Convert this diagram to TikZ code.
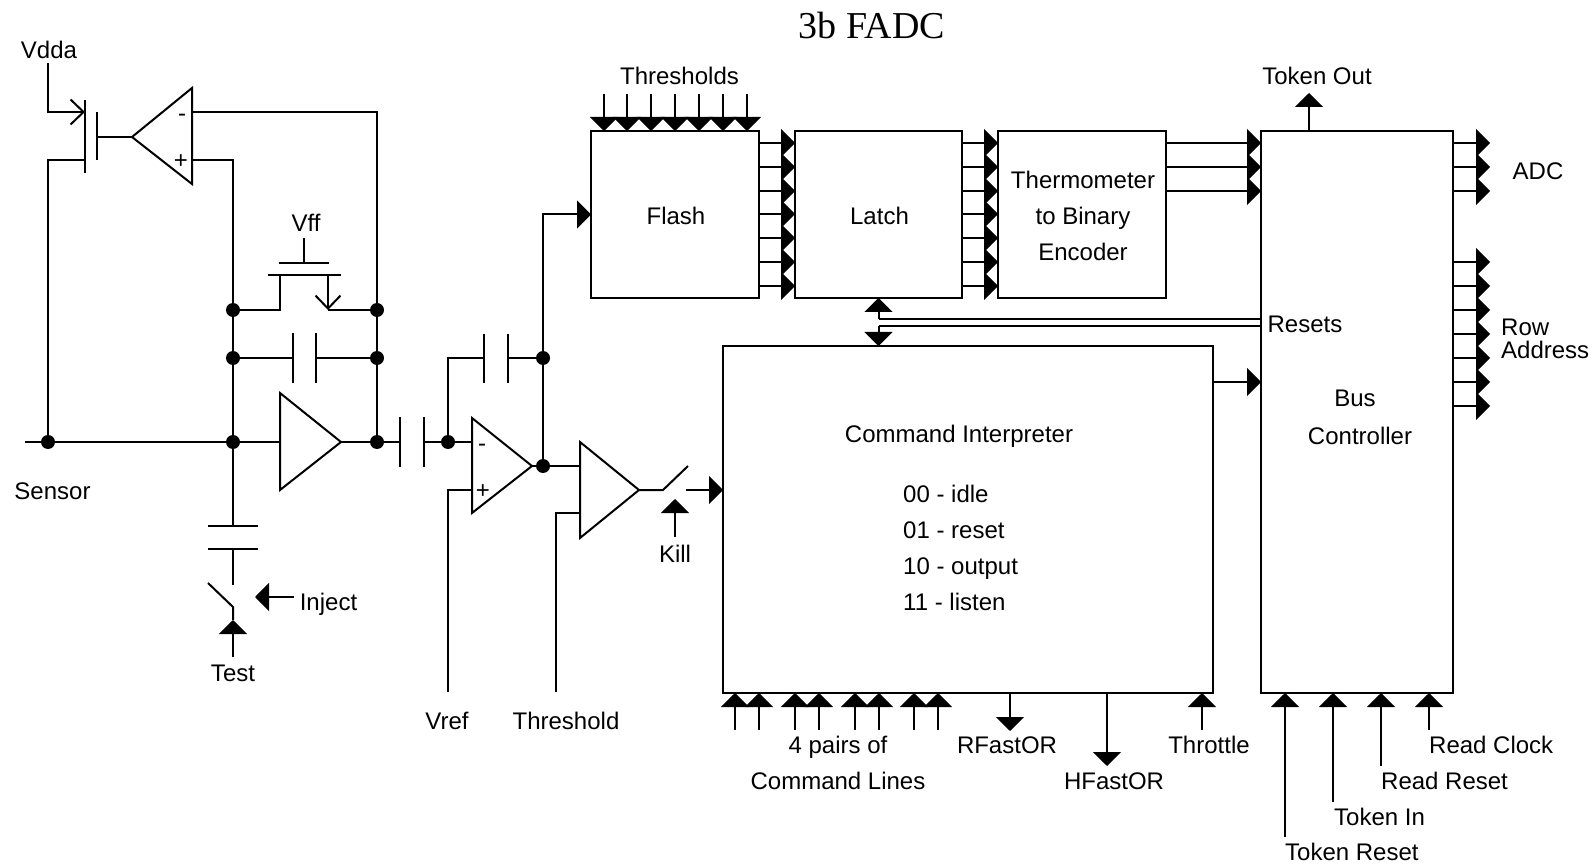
\documentclass[tikz,border=0pt]{standalone}
\usepackage{fontspec}
\setmainfont{Liberation Sans}
\newfontfamily\titlefont{Liberation Serif}
\usetikzlibrary{positioning,arrows.meta,calc}

\begin{document}
\begin{tikzpicture}[
    x=1pt, y=-1pt,
    blockbox/.style={rectangle, draw, line width=2pt, outer sep=0pt},
    lbl/.style={inner sep=0pt, align=left, font=\fontsize{24}{23}\selectfont},
    wire/.style={line width=2pt},
    arrow/.style={-{Triangle[length=14pt,width=28pt]}, line width=2pt},
    barb/.style={-{Straight Barb[length=13pt,width=25pt]}, line width=2pt},
    dot/.style={circle, fill=black, inner sep=0pt, minimum size=14pt}
]
\useasboundingbox (0,0) rectangle (1596,866);

\node[font=\titlefont\fontsize{38}{38}\selectfont, inner sep=0pt] (title) at (872,25.5) {3b FADC};

% Digital blocks
\node[blockbox, minimum width=168pt, minimum height=167pt] (flash) at (675,214.5) {};
\node[blockbox, minimum width=167pt, minimum height=167pt, right=36pt of flash] (latch) {};
\node[blockbox, minimum width=168pt, minimum height=167pt, right=36pt of latch] (thermo) {};
\node[blockbox, minimum width=192pt, minimum height=562pt, right=95pt of thermo.north east, anchor=north west] (bus) {};
\node[blockbox, minimum width=490pt, minimum height=347pt, left=48pt of bus.south west, anchor=south east] (cmd) {};

% Block texts
\node[lbl] (lflash) at ($(flash)+(1,1.5)$) {Flash};
\node[lbl] (llatch) at ($(latch)+(1,1.5)$) {Latch};
\node[lbl, align=center, font=\fontsize{24}{36}\selectfont] (lthermo) at ($(thermo)+(1,1.5)$) {Thermometer\\to Binary\\Encoder};
\node[lbl] (lbus) at (1355,398) {Bus};
\node[lbl] (lctrl) at (1360,436) {Controller};
\node[lbl] (lresets) at (1305,324) {Resets};
\node[lbl] (lcmd) at (959,436) {Command Interpreter};
\node[lbl, anchor=west] (lidle) at (903,494) {00 - idle};
\node[lbl, anchor=west] (lreset) at (903,530.5) {01 - reset};
\node[lbl, anchor=west] (loutput) at (903,569) {10 - output};
\node[lbl, anchor=west] (llisten) at (903,602) {11 - listen};

% Thresholds into Flash
\foreach \xx in {13,36,60,84,108,132,156}
    \draw[arrow] ($(flash.north west)+(\xx,-37)$) -- ($(flash.north west)+(\xx,0)$);
\node[lbl] (lthresholds) at (679.5,76) {Thresholds};

% Flash to Latch to Encoder
\foreach \yy in {12,36,60,83,107,131,155} {
    \draw[arrow] ($(flash.north east)+(0,\yy)$) -- ($(latch.north west)+(0,\yy)$);
    \draw[arrow] ($(latch.north east)+(0,\yy)$) -- ($(thermo.north west)+(0,\yy)$);
}

% Encoder to Bus Controller, ADC outputs
\foreach \yy in {12,36,60} {
    \draw[arrow] ($(thermo.north east)+(0,\yy)$) -- ($(bus.north west)+(0,\yy)$);
    \draw[arrow] ($(bus.north east)+(0,\yy)$) -- ($(bus.north east)+(37,\yy)$);
}
\node[lbl] (ladc) at (1538,171) {ADC};

% Row address outputs
\foreach \yy in {131,155,179,203,227,251,275}
    \draw[arrow] ($(bus.north east)+(0,\yy)$) -- ($(bus.north east)+(37,\yy)$);
\node[lbl, anchor=west] (lrow) at (1501,338.5) {Row\\Address};

% Token Out
\coordinate (tout) at ($(bus.north west)+(48,0)$);
\draw[arrow] (tout) -- ($(tout)+(0,-38)$);
\node[lbl] (ltout) at (1317,76) {Token Out};

% Resets
\coordinate (rtop) at ($(latch.south)+(0,21)$);
\coordinate (rbot) at ($(latch.south)+(0,28)$);
\draw[arrow] (rtop) -- (latch.south);
\draw[arrow] (rbot) -- ($(cmd.north west)!(rbot)!(cmd.north east)$);
\draw[wire] (rtop) -- ($(bus.north west)!(rtop)!(bus.south west)$);
\draw[wire] (rbot) -- ($(bus.north west)!(rbot)!(bus.south west)$);

% Command Interpreter to Bus Controller
\draw[arrow] ($(cmd.north east)+(0,36)$) -- ($(bus.north west)+(0,251)$);

% Command lines
\foreach \xx in {12,36,72,96,132,156,191,215,479}
    \draw[arrow] ($(cmd.south west)+(\xx,37)$) -- ($(cmd.south west)+(\xx,0)$);
\node[lbl] (lpairs) at (838,747) {4 pairs of};
\node[lbl] (llines) at (838,781) {Command Lines};
\node[lbl] (lthrottle) at (1209,745) {Throttle};

% Fast OR outputs
\coordinate (rfast) at ($(cmd.south west)+(287,0)$);
\coordinate (hfast) at ($(cmd.south west)+(384,0)$);
\draw[arrow] (rfast) -- ($(rfast)+(0,38)$);
\draw[arrow] (hfast) -- ($(hfast)+(0,73)$);
\node[lbl] (lrfast) at (1007,745) {RFastOR};
\node[lbl] (lhfast) at (1114,781.5) {HFastOR};

% Bus Controller inputs
\coordinate (treset) at ($(bus.south west)+(24,144)$);
\coordinate (tin) at ($(bus.south west)+(72,109)$);
\coordinate (rreset) at ($(bus.south west)+(120,73)$);
\coordinate (rclock) at ($(bus.south west)+(168,37)$);
\draw[arrow] (treset) -- ($(bus.south west)+(24,0)$);
\draw[arrow] (tin) -- ($(bus.south west)+(72,0)$);
\draw[arrow] (rreset) -- ($(bus.south west)+(120,0)$);
\draw[arrow] (rclock) -- ($(bus.south west)+(168,0)$);
\node[lbl, below right=6pt and 0pt of treset, anchor=north west] (ltreset) {Token Reset};
\node[lbl, below right=6pt and 1pt of tin, anchor=north west] (ltin) {Token In};
\node[lbl, below right=6pt and 0pt of rreset, anchor=north west] (lrreset) {Read Reset};
\node[lbl, below right=6pt and 0pt of rclock, anchor=north west] (lrclock) {Read Clock};

% Input node junctions
\node[dot] (jsense) at (48,442) {};
\node[dot] (jin) at (233,442) {};
\node[dot] (jcap) at (233,358) {};
\node[dot] (jfb) at (233,310) {};
\node[dot] (jout) at (377,442) {};
\node[dot] (jcapr) at (377,358) {};
\node[dot] (jfbr) at (377,310) {};

% Sensor line
\coordinate (sensor) at (25,442);
\coordinate (ampain) at (280,442);
\draw[wire] (sensor) -- (jsense) -- (jin) -- (ampain);
\node[lbl] (lsensor) at (52.5,491) {Sensor};

% Vdda transistor
\coordinate (vdda) at (48,63);
\coordinate (msrc) at (85,112);
\coordinate (mdrn) at (85,160);
\coordinate (mgate) at (97,137);
\draw[barb] (vdda) |- (msrc);
\draw[wire] (mdrn) -| (jsense);
\draw[wire] ($(msrc)+(0,-12)$) -- ($(mdrn)+(0,13)$);
\draw[wire] ($(mgate)+(0,-25)$) -- ($(mgate)+(0,23)$);
\node[lbl] (lvdda) at (49,50) {Vdda};

% Feedback amplifier
\coordinate (fbtip) at (132,137);
\coordinate (fbminus) at (192,112);
\coordinate (fbplus) at (192,160);
\draw[wire] (fbtip) -- ++(60,-49) -- ++(0,96) -- cycle;
\draw[wire] (mgate) -- (fbtip);
\draw[wire] (fbminus) -| (jfbr);
\draw[wire] (fbplus) -| (jfb);
\draw[wire] (jfb) -- (jcap) -- (jin);
\draw[wire] (jfbr) -- (jcapr) -- (jout);
\node[lbl] (lfbminus) at (182,118) {-};
\node[lbl] (lfbplus) at (181,162) {+};

% Vff transistor
\coordinate (vff) at (304,238);
\coordinate (vffgate) at (304,263);
\coordinate (vffbar) at (304,275);
\coordinate (vffl) at (280,275);
\coordinate (vffr) at (328,275);
\coordinate (vffs) at (328,310);
\draw[wire] (vff) -- (vffgate);
\draw[wire] ($(vffgate)+(-25,0)$) -- ($(vffgate)+(25,0)$);
\draw[wire] ($(vffbar)+(-36,0)$) -- ($(vffbar)+(37,0)$);
\draw[wire] (jfb) -| (vffl);
\draw[barb] (vffr) -- (vffs);
\draw[wire] (vffs) -- (jfbr);
\node[lbl] (lvff) at (306,223) {Vff};

% Feedback capacitor
\coordinate (cfa) at (293,358);
\coordinate (cfb) at (316,358);
\draw[wire] (jcap) -- (cfa);
\draw[wire] (cfb) -- (jcapr);
\draw[wire] ($(cfa)+(0,-25)$) -- ($(cfa)+(0,25)$);
\draw[wire] ($(cfb)+(0,-25)$) -- ($(cfb)+(0,25)$);

% Preamplifier
\coordinate (ampa) at (341,442);
\draw[wire] (ampa) -- ++(-61,-49) -- ++(0,97) -- cycle;
\draw[wire] (ampa) -- (jout);

% Test capacitor and switch
\coordinate (cta) at (233,526);
\coordinate (ctb) at (233,549);
\coordinate (swa) at (233,585);
\coordinate (swb) at (233,607);
\coordinate (swc) at (233,620);
\draw[wire] (jin) -- (cta);
\draw[wire] ($(cta)+(-25,0)$) -- ($(cta)+(25,0)$);
\draw[wire] ($(ctb)+(-25,0)$) -- ($(ctb)+(25,0)$);
\draw[wire] (ctb) -- (swa);
\draw[wire] (208,583) -- (swb) -- (swc);
\coordinate (test) at (233,657);
\draw[arrow] (test) -- (swc);
\node[lbl] (ltest) at (233,673) {Test};
\coordinate (inject) at (294,597);
\draw[arrow] (inject) -- ++(-39,0);
\node[lbl] (linject) at (328.5,604) {Inject};

% Coupling capacitor
\coordinate (cca) at (400,442);
\coordinate (ccb) at (424,442);
\node[dot] (jneg) at (448,442) {};
\draw[wire] (jout) -- (cca);
\draw[wire] ($(cca)+(0,-25)$) -- ($(cca)+(0,25)$);
\draw[wire] ($(ccb)+(0,-25)$) -- ($(ccb)+(0,25)$);
\draw[wire] (ccb) -- (jneg);

% Shaper amplifier
\coordinate (ampb) at (532,466);
\coordinate (bminus) at (472,442);
\coordinate (bplus) at (472,490);
\coordinate (vref) at (448,692);
\node[dot] (jbout) at (543,466) {};
\node[dot] (jcb) at (543,358) {};
\draw[wire] (ampb) -- ++(-60,-48) -- ++(0,95) -- cycle;
\draw[wire] (jneg) -- (bminus);
\draw[wire] (bplus) -| (vref);
\node[lbl] (lbminus) at (482,448) {-};
\node[lbl] (lbplus) at (483,492) {+};
\node[lbl] (lvref) at (447,721) {Vref};

% Shaper feedback capacitor
\coordinate (cba) at (484,358);
\coordinate (cbb) at (508,358);
\draw[wire] (jneg) |- (cba);
\draw[wire] ($(cba)+(0,-24)$) -- ($(cba)+(0,25)$);
\draw[wire] ($(cbb)+(0,-24)$) -- ($(cbb)+(0,25)$);
\draw[wire] (cbb) -- (jcb);
\draw[wire] (jcb) -- (jbout);
\draw[arrow] (jcb) |- (flash.west);

% Discriminator
\coordinate (ampc) at (639,490);
\coordinate (cin) at (580,466);
\coordinate (cthr) at (580,513);
\coordinate (thr) at (556,692);
\draw[wire] (ampc) -- ++(-59,-48) -- ++(0,96) -- cycle;
\draw[wire] (ampb) -- (jbout) -- (cin);
\draw[wire] (cthr) -| (thr);
\node[lbl] (lthr) at (566,721) {Threshold};

% Kill switch
\coordinate (ksa) at (663,490);
\coordinate (ksb) at (688,466);
\coordinate (ksc) at (686,490);
\draw[wire] (ampc) -- (ksa) -- (ksb);
\draw[arrow] (ksc) -- ($(cmd.north west)+(0,144)$);
\coordinate (kill) at (675,537);
\draw[arrow] (kill) -- ++(0,-38);
\node[lbl] (lkill) at (675,554) {Kill};

\end{tikzpicture}
\end{document}
